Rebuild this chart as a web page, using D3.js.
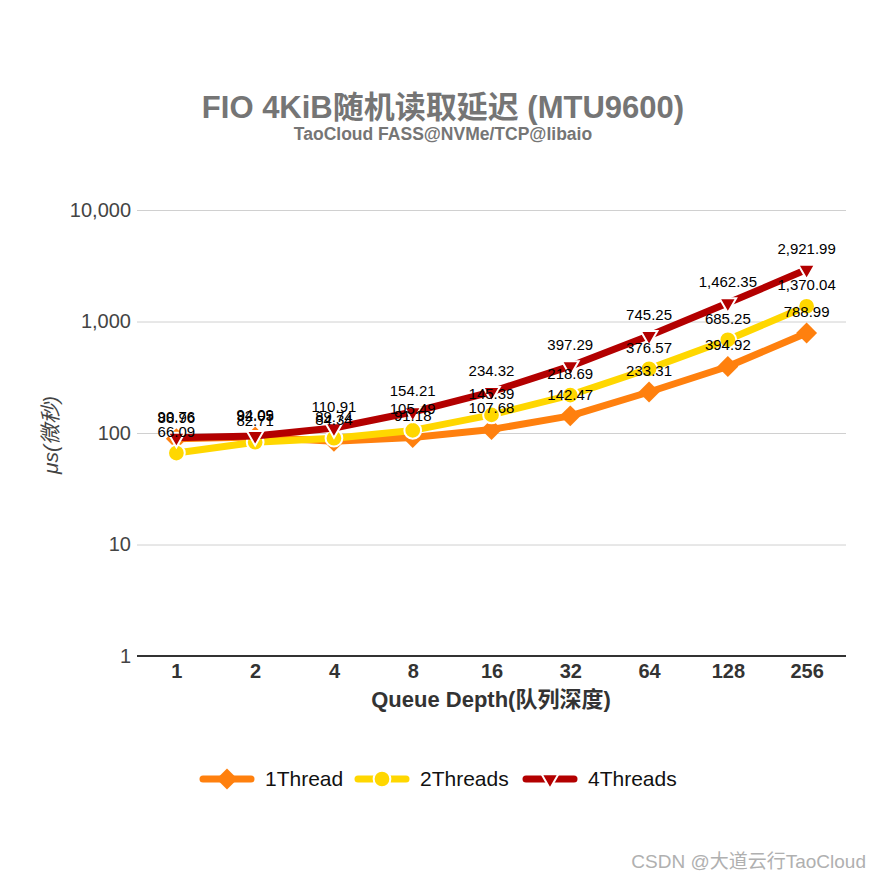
<!DOCTYPE html>
<html>
<head>
<meta charset="utf-8">
<script src="https://cdn.jsdelivr.net/npm/d3@7"></script>
<style>
  body { margin: 0; background: #fff; }
  svg text { font-family: "Liberation Sans", Arial, "Noto Sans CJK SC", sans-serif; }
</style>
</head>
<body>
<div id="graf"></div>
<script>
// I. Datos
categorias = ['1', '2', '4', '8', '16', '32', '64', '128', '256']
series = ['1Thread', '2Threads', '4Threads']
valores1 = [88.96, 92.05, 84.34, 91.18, 107.68, 142.47, 233.31, 394.92, 788.99]
valores2 = [66.09, 82.71, 89.74, 105.49, 145.39, 218.69, 376.57, 685.25, 1370.04]
valores4 = [90.76, 94.09, 110.91, 154.21, 234.32, 397.29, 745.25, 1462.35, 2921.99]
ticksY = [1, 10, 100, 1000, 10000]

// II. Configuración
ancho_total = 881
alto_total = 881
margins = { top: 210, left: 137, right: 35, bottom: 225 }
ancho = ancho_total - margins.left - margins.right
alto = alto_total - margins.top - margins.bottom

svg = d3.select('#graf').append('svg')
        .attr('width', ancho_total)
        .attr('height', alto_total)

g = svg.append('g')
       .attr('transform', `translate(${ margins.left }, ${ margins.top })`)

x = d3.scalePoint()
      .domain(categorias)
      .range([0, ancho])
      .padding(0.5)

y = d3.scaleLog()
      .domain([1, 10000])
      .range([alto, 0])

colores = { '1Thread': '#ff800e', '2Threads': '#ffd700', '4Threads': '#b30000' }
simbolos = { '1Thread': d3.symbolDiamond2, '2Threads': d3.symbolCircle, '4Threads': d3.symbolTriangle2 }
datos = [
  { nombre: '1Thread', valores: valores1 },
  { nombre: '2Threads', valores: valores2 },
  { nombre: '4Threads', valores: valores4 }
]

// Títulos
svg.append('text')
   .attr('x', 443).attr('y', 118)
   .attr('text-anchor', 'middle')
   .style('font-size', '31px').style('font-weight', 'bold')
   .style('fill', '#757575')
   .text('FIO 4KiB随机读取延迟 (MTU9600)')

svg.append('text')
   .attr('x', 443).attr('y', 140)
   .attr('text-anchor', 'middle')
   .style('font-size', '17.5px').style('font-weight', 'bold')
   .style('fill', '#757575')
   .text('TaoCloud FASS@NVMe/TCP@libaio')

// Ejes
yAxis = g.append('g')
         .call(d3.axisLeft(y).tickValues(ticksY).tickSize(-ancho).tickFormat(d3.format(',')))
yAxis.select('.domain').remove()
yAxis.selectAll('.tick line').attr('stroke', '#d0d0d0')
yAxis.selectAll('.tick text')
     .attr('x', -6)
     .style('font-size', '20px').style('fill', '#444')
yAxis.selectAll('.tick').filter(d => d === 1).select('line').remove()

xAxis = g.append('g')
         .attr('transform', `translate(0, ${ alto })`)
         .call(d3.axisBottom(x).tickSize(0).tickPadding(8))
xAxis.select('.domain').attr('stroke', '#333').attr('stroke-width', 2)
     .attr('d', `M0,0H${ ancho }`)
xAxis.selectAll('.tick text')
     .style('font-size', '20px').style('font-weight', 'bold').style('fill', '#333')

g.append('text')
 .attr('x', 491 - margins.left).attr('y', alto + 51)
 .attr('text-anchor', 'middle')
 .style('font-size', '22px').style('font-weight', 'bold').style('fill', '#333')
 .text('Queue Depth(队列深度)')

g.append('text')
 .attr('transform', `translate(${ 58 - margins.left }, ${ y(100) + 2 }) rotate(-90)`)
 .attr('text-anchor', 'middle')
 .style('font-size', '21px').style('font-style', 'italic').style('fill', '#444')
 .text('μs(微秒)')

// III. Series
linea = d3.line()
          .x((d, i) => x(categorias[i]))
          .y(d => y(d))

function marcador(sel, nombre) {
  sel.attr('d', d3.symbol().type(simbolos[nombre])
                  .size(nombre === '1Thread' ? 280 : nombre === '2Threads' ? 220 : 200))
     .attr('fill', colores[nombre])
     .attr('stroke', nombre === '1Thread' ? 'none' : '#fff')
     .attr('stroke-width', 2)
}

datos.forEach(s => {
  sg = g.append('g')
  sg.append('path')
    .attr('d', linea(s.valores))
    .attr('fill', 'none')
    .attr('stroke', colores[s.nombre])
    .attr('stroke-width', 7)
    .attr('stroke-linejoin', 'round')
  sg.selectAll('path.m')
    .data(s.valores)
    .enter().append('path')
    .attr('class', 'm')
    .attr('transform', (d, i) => `translate(${ x(categorias[i]) }, ${ y(d) })${ s.nombre === '4Threads' ? ' rotate(180)' : '' }`)
    .call(marcador, s.nombre)
})

datos.forEach(s => {
  g.append('g').selectAll('text')
   .data(s.valores)
   .enter().append('text')
   .attr('x', (d, i) => x(categorias[i]))
   .attr('y', d => y(d) - 16)
   .attr('text-anchor', 'middle')
   .style('font-size', '15px').style('fill', '#000')
   .text(d => d3.format(',.2f')(d))
})

// Leyenda
leyenda = [
  { nombre: '1Thread', x: 203 },
  { nombre: '2Threads', x: 358 },
  { nombre: '4Threads', x: 526 }
]
leyenda.forEach(l => {
  lg = svg.append('g').attr('transform', `translate(${ l.x }, 779)`)
  lg.append('line')
    .attr('x1', 0).attr('x2', 48)
    .attr('stroke', colores[l.nombre]).attr('stroke-width', 7)
    .attr('stroke-linecap', 'round')
  lg.append('path')
    .attr('transform', `translate(24, 0)${ l.nombre === '4Threads' ? ' rotate(180)' : '' }`)
    .call(marcador, l.nombre)
  lg.append('text')
    .attr('x', 62).attr('y', 7)
    .style('font-size', '21px').style('fill', '#111')
    .text(l.nombre)
})

svg.append('text')
   .attr('x', 866).attr('y', 868)
   .attr('text-anchor', 'end')
   .style('font-size', '19px').style('fill', '#b0b0b0')
   .text('CSDN @大道云行TaoCloud')
</script>
</body>
</html>
